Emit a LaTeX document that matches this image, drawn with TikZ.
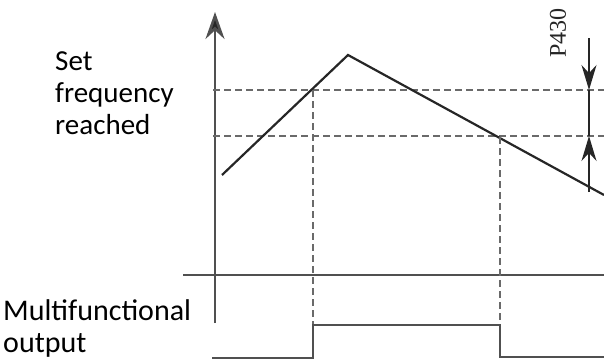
\documentclass[tikz,border=0pt]{standalone}
\usepackage{fontspec}
\setmainfont{Carlito}
\usetikzlibrary{arrows.meta, positioning}
\definecolor{axis}{HTML}{505050}
\definecolor{curve}{HTML}{262626}
\definecolor{guide}{HTML}{6A6A6A}

\begin{document}
\begin{tikzpicture}[x=1pt, y=-1pt,
    axisline/.style={line width=2.6pt, axis},
    curveline/.style={line width=2.2pt, curve},
    guideline/.style={line width=1.9pt, guide, dash pattern=on 7pt off 4pt},
    label/.style={font=\fontsize{29}{32}\selectfont, align=left, anchor=north west, inner sep=0pt},
    marker/.style={-{Stealth[length=25pt, width=15pt]}, line width=1.4pt, curve}
  ]
    \useasboundingbox (0,0) rectangle (604,359);

    % axes
    \draw[axisline, -{Stealth[length=27pt, width=19pt, fill=curve]}] (215,323) -- (215,12);
    \draw[axisline] (183,275) -- (604,275);

    % levels
    \coordinate (upper) at (589,90);
    \coordinate (lower) at (589,136);
    \draw[guideline] (213,90) -- (604,90);
    \draw[guideline] (213,136) -- (604,136);

    % frequency
    \coordinate (start) at (222,175);
    \coordinate (peak) at (348,55);
    \coordinate (finish) at (604,195);
    \draw[curveline] (start) -- (peak) -- (finish);

    % switch points
    \draw[guideline] (313,90) -- (313,325);
    \draw[guideline] (500,137) -- (500,325);

    % output signal
    \draw[curveline, axis] (212,358) -- (313,358) -- (313,325) -- (500,325) -- (500,357) -- (604,357);

    % hysteresis band
    \draw[marker] (589,38) -- (upper);
    \draw[marker] (589,192) -- (lower);
    \draw[line width=1.4pt, curve] (upper) -- (lower);
    \node[font=\fontsize{24}{24}\selectfont, rotate=90, inner sep=0pt, text=curve] (p430) at (558,33) {\fontspec{Liberation Serif}P430};

    % labels
    \node[label] (setfreq) at (55,51) {Set\\frequency\\reached};
    \node[label, font=\fontsize{30}{32}\selectfont] (multi) at (3,299) {Multifunctional\\output};

  \end{tikzpicture}
\end{document}
